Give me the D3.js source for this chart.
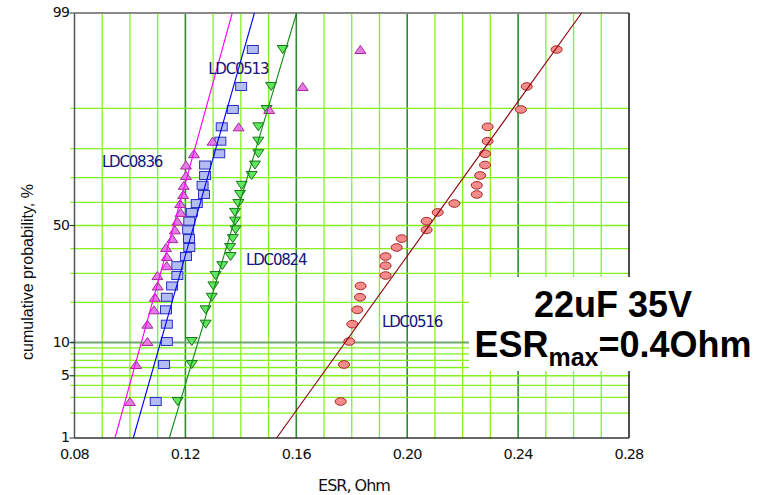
<!DOCTYPE html>
<html>
<head>
<meta charset="utf-8">
<script src="https://cdn.jsdelivr.net/npm/d3@7"></script>
<style>
  body { margin: 0; background: #fff; }
  svg { display: block; }
</style>
</head>
<body>
<svg id="chart" width="757" height="495"></svg>
<script>
// cumulative probability (%) of each ranked point
const probs = [2.7, 6.4, 10.2, 14.0, 17.8, 21.6, 25.4, 29.2, 33.0, 36.7, 40.5, 44.3, 48.1,
               51.9, 55.7, 59.5, 63.3, 67.0, 70.8, 74.6, 78.4, 82.2, 86.0, 89.8, 93.6, 97.3];

// ESR values, Ohm
const esr0836 = [0.1000, 0.1022, 0.1063, 0.1063, 0.1087, 0.1090, 0.1100, 0.1099, 0.1133, 0.1133,
                 0.1130, 0.1153, 0.1162, 0.1171, 0.1183, 0.1181, 0.1192, 0.1194, 0.1202, 0.1202,
                 0.1231, 0.1298, 0.1392, 0.1502, 0.1623, 0.1831];
const esr0513 = [0.1093, 0.1123, 0.1133, 0.1133, 0.1130, 0.1133, 0.1152, 0.1171, 0.1171, 0.1202,
                 0.1214, 0.1213, 0.1210, 0.1214, 0.1223, 0.1241, 0.1267, 0.1262, 0.1271, 0.1271,
                 0.1322, 0.1326, 0.1331, 0.1371, 0.1401, 0.1443];
const esr0824 = [0.1172, 0.1223, 0.1223, 0.1273, 0.1273, 0.1295, 0.1301, 0.1309, 0.1333, 0.1363,
                 0.1361, 0.1371, 0.1381, 0.1379, 0.1379, 0.1391, 0.1397, 0.1403, 0.1439, 0.1451,
                 0.1463, 0.1463, 0.1463, 0.1493, 0.1509, 0.1551];
const esr0516 = [0.1760, 0.1772, 0.1791, 0.1802, 0.1820, 0.1830, 0.1832, 0.1922, 0.1922, 0.1922,
                 0.1962, 0.1980, 0.2070, 0.2070, 0.2110, 0.2170, 0.2251, 0.2251, 0.2263, 0.2281,
                 0.2281, 0.2290, 0.2290, 0.2410, 0.2431, 0.2539];

const seriesNames = ["LDC0836", "LDC0513", "LDC0824", "LDC0516"];
// fitted lines: ESR where they cross 1 % and 99 %
const fitAt1 = [0.0946, 0.1012, 0.1142, 0.1529];
const fitAt99 = [0.1369, 0.1449, 0.1601, 0.2629];

const xTicks = [0.08, 0.12, 0.16, 0.20, 0.24, 0.28];
const xGrid = [0.09, 0.10, 0.11, 0.12, 0.13, 0.14, 0.15, 0.16, 0.17, 0.18, 0.19,
               0.20, 0.21, 0.22, 0.23, 0.24, 0.25, 0.26, 0.27];
const yTicks = [1, 5, 10, 50, 99];
const yGrid = [2, 3, 4, 5, 6, 7, 8, 9, 10, 20, 30, 40, 50, 60, 70, 80, 90];

// inverse normal CDF (Acklam)
function probit(p) {
    const a = [-3.969683028665376e+01, 2.209460984245205e+02, -2.759285104469687e+02,
               1.383577518672690e+02, -3.066479806614716e+01, 2.506628277459239e+00];
    const b = [-5.447609879822406e+01, 1.615858368580409e+02, -1.556989798598866e+02,
               6.680131188771972e+01, -1.328068155288572e+01];
    const c = [-7.784894002430293e-03, -3.223964580411365e-01, -2.400758277161838e+00,
               -2.549732539343734e+00, 4.374664141464968e+00, 2.938163982698783e+00];
    const d = [7.784695709041462e-03, 3.224671290700398e-01, 2.445134137142996e+00,
               3.754408661907416e+00];
    const pl = 0.02425;
    let q, r;
    if (p < pl) {
        q = Math.sqrt(-2 * Math.log(p));
        return (((((c[0]*q + c[1])*q + c[2])*q + c[3])*q + c[4])*q + c[5]) /
               ((((d[0]*q + d[1])*q + d[2])*q + d[3])*q + 1);
    }
    if (p <= 1 - pl) {
        q = p - 0.5; r = q * q;
        return (((((a[0]*r + a[1])*r + a[2])*r + a[3])*r + a[4])*r + a[5])*q /
               (((((b[0]*r + b[1])*r + b[2])*r + b[3])*r + b[4])*r + 1);
    }
    q = Math.sqrt(-2 * Math.log(1 - p));
    return -(((((c[0]*q + c[1])*q + c[2])*q + c[3])*q + c[4])*q + c[5]) /
            ((((d[0]*q + d[1])*q + d[2])*q + d[3])*q + 1);
}

const plot = { left: 74.5, right: 629, top: 13, bottom: 438 };

const svg = d3.select("#chart");
const x = d3.scaleLinear().domain([0.08, 0.28]).range([plot.left, plot.right]);
const zScale = d3.scaleLinear().domain([probit(0.01), probit(0.99)]).range([plot.bottom, plot.top]);
const y = p => zScale(probit(p / 100));

const styles = [
    { shape: "up",     fill: "#e57ae5", stroke: "#a8289f", line: "#ff00ff", lw: 1.1 },
    { shape: "square", fill: "#b4bcf4", stroke: "#2830c0", line: "#0000ff", lw: 1.1 },
    { shape: "down",   fill: "#5fe85f", stroke: "#1c741c", line: "#138a13", lw: 1.1 },
    { shape: "circle", fill: "#f48c8c", stroke: "#a82222", line: "#8b0000", lw: 1.1 }
];
const allEsr = [esr0836, esr0513, esr0824, esr0516];

// label anchors (ESR, %) for the series names
const labelAt = [[0.0899, 73.9], [0.1282, 95.1], [0.1419, 33.3], [0.1909, 13.3]];

const isMajor = d => [0.12, 0.16, 0.20, 0.24].some(t => Math.abs(t - d) < 1e-6);

// grid
const grid = svg.append("g");
grid.selectAll("line.vx")
    .data(xGrid)
    .join("line")
    .attr("x1", d => x(d)).attr("x2", d => x(d))
    .attr("y1", plot.top).attr("y2", plot.bottom)
    .attr("stroke", d => isMajor(d) ? "#2f8a2f" : "#86f01e")
    .attr("stroke-width", d => isMajor(d) ? 1.6 : 1.3);

grid.selectAll("line.hy")
    .data(yGrid)
    .join("line")
    .attr("x1", plot.left - 4).attr("x2", plot.right)
    .attr("y1", d => y(d)).attr("y2", d => y(d))
    .attr("stroke", d => d === 10 ? "#6fa86f" : "#86f01e")
    .attr("stroke-width", d => d === 10 ? 2 : 1.3);

// axes frame
svg.append("line").attr("x1", plot.left).attr("x2", plot.right).attr("y1", plot.top).attr("y2", plot.top)
    .attr("stroke", "#8a8a8a").attr("stroke-width", 2);
svg.append("line").attr("x1", plot.right).attr("x2", plot.right).attr("y1", plot.top).attr("y2", plot.bottom)
    .attr("stroke", "#111").attr("stroke-width", 1.5);
svg.append("line").attr("x1", plot.left).attr("x2", plot.left).attr("y1", plot.top).attr("y2", plot.bottom)
    .attr("stroke", "#555").attr("stroke-width", 1.5);
svg.append("line").attr("x1", plot.left).attr("x2", plot.right).attr("y1", plot.bottom).attr("y2", plot.bottom)
    .attr("stroke", "#333").attr("stroke-width", 1.5);

// tick labels
const tickFont = "'DejaVu Sans', Verdana, sans-serif";
svg.append("g").selectAll("line")
    .data(yTicks)
    .join("line")
    .attr("x1", plot.left - 5).attr("x2", plot.left)
    .attr("y1", d => y(d)).attr("y2", d => y(d))
    .attr("stroke", "#333");
svg.append("g").selectAll("text")
    .data(yTicks)
    .join("text")
    .attr("x", 69)
    .attr("y", d => y(d) + 4)
    .attr("text-anchor", "end")
    .style("font-family", tickFont).style("font-size", "14px").style("letter-spacing", "-0.8px")
    .attr("fill", "#111")
    .text(d => d);

svg.append("g").selectAll("text")
    .data(xTicks)
    .join("text")
    .attr("x", d => x(d))
    .attr("y", 459)
    .attr("text-anchor", "middle")
    .style("font-family", tickFont).style("font-size", "14.5px").style("letter-spacing", "-0.8px")
    .attr("fill", "#111")
    .text(d => d.toFixed(2));

svg.append("text")
    .attr("x", 354).attr("y", 491)
    .attr("text-anchor", "middle")
    .style("font-family", tickFont).style("font-size", "16px").style("letter-spacing", "-1px")
    .attr("fill", "#111")
    .text("ESR, Ohm");

svg.append("text")
    .attr("transform", "translate(33,272) rotate(-90)")
    .attr("text-anchor", "middle")
    .style("font-family", "'Liberation Sans', Arial, sans-serif").style("font-size", "16px")
    .attr("fill", "#111")
    .text("cumulative probability, %");

// markers
const marks = svg.append("g");
[3, 2, 1, 0].forEach(i => {
    const st = styles[i];
    const pts = allEsr[i].map((v, k) => ({ v, p: probs[k] }));
    const g = marks.append("g");
    if (st.shape === "square") {
        g.selectAll("rect").data(pts).join("rect")
            .attr("x", d => x(d.v) - 5.5).attr("y", d => y(d.p) - 4)
            .attr("width", 11).attr("height", 8)
            .attr("fill", st.fill).attr("stroke", st.stroke).attr("stroke-width", 1);
    } else if (st.shape === "circle") {
        g.selectAll("ellipse").data(pts).join("ellipse")
            .attr("cx", d => x(d.v)).attr("cy", d => y(d.p))
            .attr("rx", 5.5).attr("ry", 3.8)
            .attr("fill", st.fill).attr("stroke", st.stroke).attr("stroke-width", 1);
    } else {
        const s = st.shape === "up" ? 1 : -1;
        g.selectAll("path").data(pts).join("path")
            .attr("d", d => {
                const cx = x(d.v), cy = y(d.p);
                return `M${cx - 5.5},${cy + 4 * s}L${cx + 5.5},${cy + 4 * s}L${cx},${cy - 4 * s}Z`;
            })
            .attr("fill", st.fill).attr("stroke", st.stroke).attr("stroke-width", 1);
    }
});

// fitted lines on top of the markers
svg.append("g").selectAll("line")
    .data(seriesNames.map((n, i) => ({ a: fitAt1[i], b: fitAt99[i], st: styles[i] })))
    .join("line")
    .attr("x1", d => x(d.a)).attr("y1", y(1))
    .attr("x2", d => x(d.b)).attr("y2", y(99))
    .attr("stroke", d => d.st.line)
    .attr("stroke-width", d => d.st.lw);

// series labels
svg.append("g").selectAll("text")
    .data(seriesNames)
    .join("text")
    .attr("x", (d, i) => x(labelAt[i][0]))
    .attr("y", (d, i) => y(labelAt[i][1]))
    .style("font-family", tickFont).style("font-size", "15px").style("letter-spacing", "-1.2px")
    .attr("fill", "#14147a")
    .text(d => d);

// annotation box
svg.append("rect")
    .attr("x", 469).attr("y", 277).attr("width", 288).attr("height", 94)
    .attr("fill", "#fff");
const boldFont = "'Liberation Sans', Arial, sans-serif";
svg.append("text")
    .attr("x", 613).attr("y", 317)
    .attr("text-anchor", "middle")
    .style("font-family", boldFont).style("font-weight", "bold").style("font-size", "36px")
    .attr("fill", "#000")
    .text("22uF 35V");
const t2 = svg.append("text")
    .attr("x", 613).attr("y", 357)
    .attr("text-anchor", "middle")
    .style("font-family", boldFont).style("font-weight", "bold").style("font-size", "36px")
    .attr("fill", "#000");
t2.append("tspan").text("ESR");
t2.append("tspan").attr("dy", 9).style("font-size", "25px").text("max");
t2.append("tspan").attr("dy", -9).text("=0.4Ohm");
</script>
</body>
</html>
